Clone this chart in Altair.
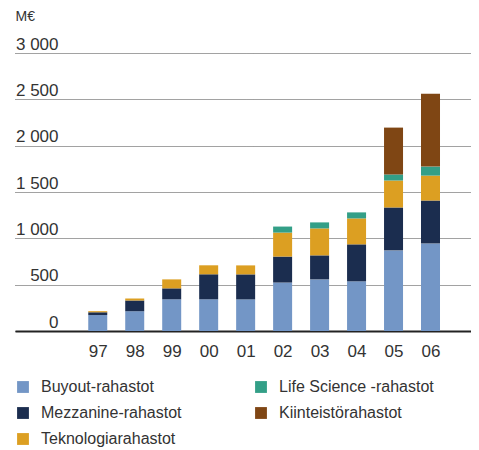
import altair as alt
import pandas as pd

years = ["97", "98", "99", "00", "01", "02", "03", "04", "05", "06"]
series = ["Buyout-rahastot", "Mezzanine-rahastot", "Teknologiarahastot",
          "Life Science -rahastot", "Kiinteistörahastot"]
buyout = [172, 212, 342, 342, 341, 523, 557, 536, 870, 945]
mezzanine = [30, 118, 118, 270, 270, 280, 259, 399, 463, 463]
teknologia = [12, 22, 97, 97, 97, 259, 291, 280, 291, 269]
life_science = [0, 0, 0, 0, 0, 65, 65, 65, 65, 97]
kiinteisto = [0, 0, 0, 0, 0, 0, 0, 0, 506, 787]
colors = ["#7396c6", "#1b2d4f", "#dc9f22", "#339f87", "#7f4614"]
y_ticks = [0, 500, 1000, 1500, 2000, 2500, 3000]

values = [buyout, mezzanine, teknologia, life_science, kiinteisto]
rows = []
for si, (name, vals) in enumerate(zip(series, values)):
    for yi, (y, v) in enumerate(zip(years, vals)):
        if v > 0:
            rows.append({"idx": yi, "year": y, "series": name, "value": v, "ord": si})
df = pd.DataFrame(rows)

year_expr = "[" + ",".join("'%s'" % y for y in years) + "][datum.value]"

FONT = "Liberation Sans"
TXT = "#333333"

chart = alt.Chart(df).mark_bar(width=19).encode(
    x=alt.X("idx:Q",
            scale=alt.Scale(domain=[-2.103, 9.96], nice=False, zero=False),
            axis=alt.Axis(title=None, values=list(range(len(years))),
                          labelExpr=year_expr, ticks=False, domain=True,
                          domainColor="#222222", domainWidth=2,
                          labelFontSize=17, labelColor=TXT, labelFont=FONT,
                          labelPadding=12, grid=False, labelFlush=False)),
    y=alt.Y("value:Q", stack="zero",
            scale=alt.Scale(domain=[0, 3000], nice=False),
            axis=alt.Axis(values=y_ticks, title="M€", titleAngle=0,
                          titleAlign="left", titleBaseline="middle",
                          titleX=0, titleY=-37, titleFontSize=14,
                          titleFontWeight="normal", titleColor=TXT, titleFont=FONT,
                          labelExpr="replace(format(datum.value, ','), ',', ' ')",
                          labelAlign="right", labelBaseline="alphabetic",
                          labelPadding=-43, labelOffset=-4, ticks=False, domain=False,
                          labelFontSize=17, labelColor=TXT, labelFont=FONT,
                          grid=True, gridColor="#444444", gridDash=[1, 1],
                          gridWidth=1)),
    color=alt.Color("series:N",
                    scale=alt.Scale(domain=series, range=colors),
                    legend=alt.Legend(title=None, orient="none", legendX=0,
                                      legendY=326, columns=2, columnPadding=71,
                                      rowPadding=10, symbolType="square",
                                      symbolSize=140, symbolStrokeWidth=0,
                                      labelFontSize=16, labelColor=TXT,
                                      labelFont=FONT, labelOffset=10,
                                      labelLimit=300)),
    order=alt.Order("ord:Q", sort="ascending"),
).properties(
    width=456, height=278,
    autosize=alt.AutoSizeParams(type="none"),
    padding={"left": 7, "top": 45, "right": 0, "bottom": 118},
).configure_view(stroke=None)

chart.save("out.html", embed_options={"renderer": "svg", "actions": False})
